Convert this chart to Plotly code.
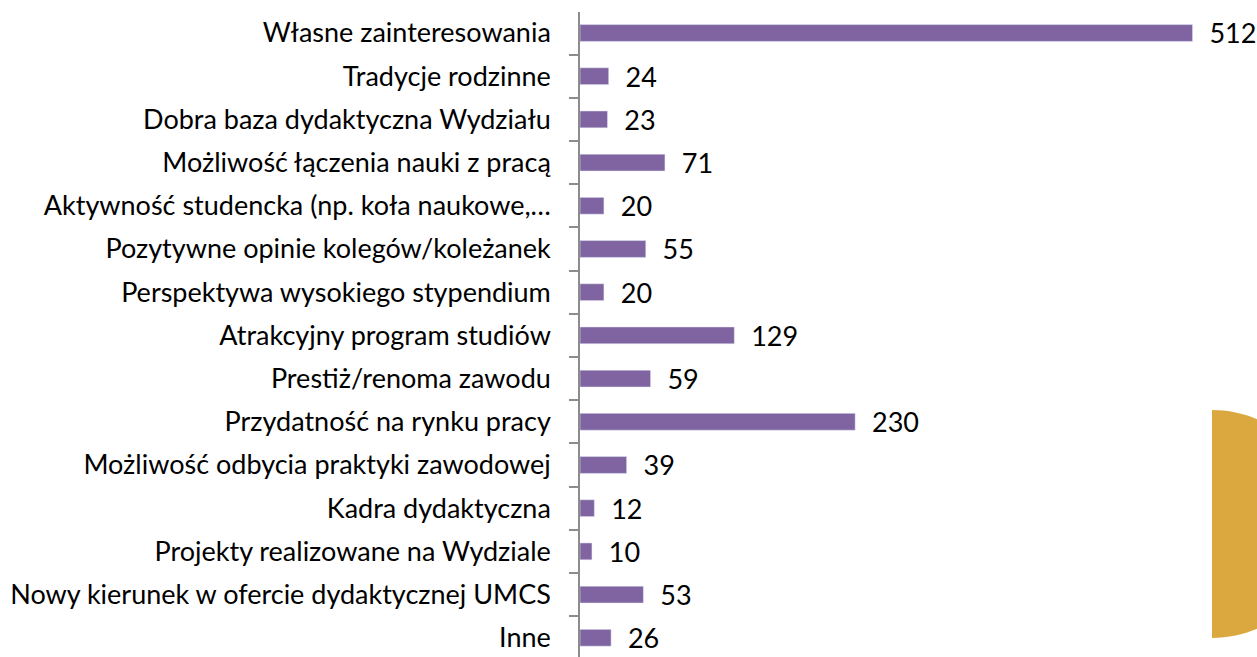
import plotly.graph_objects as go

categories = [
    "Własne zainteresowania",
    "Tradycje rodzinne",
    "Dobra baza dydaktyczna Wydziału",
    "Możliwość łączenia nauki z pracą",
    "Aktywność studencka (np. koła naukowe,…",
    "Pozytywne opinie kolegów/koleżanek",
    "Perspektywa wysokiego stypendium",
    "Atrakcyjny program studiów",
    "Prestiż/renoma zawodu",
    "Przydatność na rynku pracy",
    "Możliwość odbycia praktyki zawodowej",
    "Kadra dydaktyczna",
    "Projekty realizowane na Wydziale",
    "Nowy kierunek w ofercie dydaktycznej UMCS",
    "Inne",
]
values = [512, 24, 23, 71, 20, 55, 20, 129, 59, 230, 39, 12, 10, 53, 26]

FONT = "Lato"
FS = 27

fig = go.Figure(
    go.Bar(
        x=values,
        y=categories,
        orientation="h",
        marker=dict(color="#8064A2"),
        text=values,
        texttemplate="\u00a0\u00a0%{x}",
        textposition="outside",
        constraintext="none",
        cliponaxis=False,
        textfont=dict(family=FONT, size=FS, color="#000000"),
    )
)

fig.update_layout(
    width=1257,
    height=657,
    margin=dict(l=580, r=7, t=12, b=0, autoexpand=False),
    paper_bgcolor="white",
    plot_bgcolor="white",
    bargap=0.61,
    showlegend=False,
    font=dict(family=FONT, size=FS, color="#000000"),
    xaxis=dict(
        range=[0, 560],
        visible=False,
        showgrid=False,
        zeroline=False,
        automargin=False,
    ),
    yaxis=dict(
        range=[14.445, -0.486],
        automargin=False,
        showline=True,
        linecolor="#8C8C8C",
        linewidth=1.5,
        ticks="outside",
        tickson="boundaries",
        ticklen=9,
        tickwidth=1.5,
        tickcolor="#8C8C8C",
        ticklabelstandoff=22,
        showgrid=False,
        tickfont=dict(family=FONT, size=FS, color="#000000"),
    ),
    shapes=[
        dict(
            type="path",
            xref="paper",
            yref="paper",
            path=("M 0.9433,0.3829 C 1.0373,0.3829 1.1134,0.3039 1.1134,0.2062 "
                  "C 1.1134,0.1085 1.0373,0.0295 0.9433,0.0295 Z"),
            fillcolor="#DBA840",
            line=dict(width=0),
            layer="below",
        )
    ],
)

fig.write_html(
    "out.html",
    config={"displayModeBar": False},
    post_script="document.body.style.margin='0';document.body.style.overflow='hidden';",
)
